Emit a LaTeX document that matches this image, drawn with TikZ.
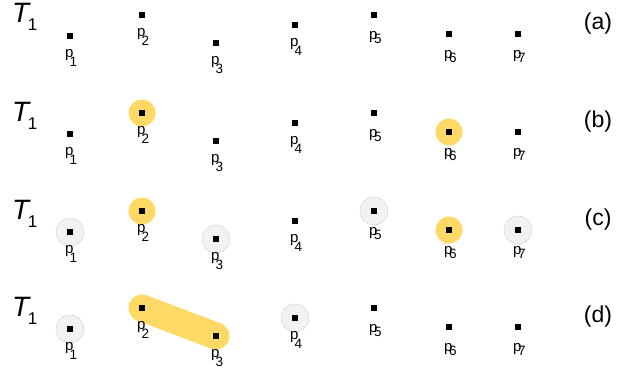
\documentclass[tikz,border=0pt]{standalone}
\usepackage{fontspec}
\setmainfont{Liberation Sans}
\definecolor{hl}{RGB}{255,217,102}
\definecolor{gfill}{RGB}{242,242,242}
\definecolor{gline}{RGB}{160,160,160}
\newcommand{\plab}[3]{\fontsize{15}{15}\selectfont p\kern#2\raisebox{-#3}{\fontsize{13.5}{13.5}\selectfont #1}}
\begin{document}
\begin{tikzpicture}[x=1pt,y=-1pt,
  pt/.style={fill=black,minimum size=6pt,inner sep=0pt,draw=none},
  lab/.style={anchor=base west,inner sep=0pt},
  yel/.style={fill=hl,draw=none},
  gry/.style={fill=gfill,draw=gline,densely dotted,line width=0.5pt},
  rowlab/.style={inner sep=0pt,font=\fontsize{23}{23}\selectfont},
  tlab/.style={inner sep=0pt,anchor=base west}]
\useasboundingbox (0,0) rectangle (621,372);
\foreach \r/\o in {a/0,b/98,c/196,d/293}{
  \coordinate (\r1) at (70,36+\o);
  \coordinate (\r2) at (142,15+\o);
  \coordinate (\r3) at (216,43+\o);
  \coordinate (\r4) at (295,25+\o);
  \coordinate (\r5) at (374,15+\o);
  \coordinate (\r6) at (449,34+\o);
  \coordinate (\r7) at (518,34+\o);
}
% highlights
\fill[yel] (b2) circle (13.5pt);
\fill[yel] (b6) circle (13.5pt);
\fill[yel] (c2) circle (13.5pt);
\fill[yel] (c6) circle (13.5pt);
\draw[gry] (c1) circle (14pt);
\draw[gry] (c3) circle (14pt);
\draw[gry] (c5) circle (14pt);
\draw[gry] (c7) circle (14pt);
\draw[gry] (d1) circle (14pt);
\draw[gry] (d4) circle (14pt);
\draw[hl,line width=27pt,line cap=round] (d2) -- (d3);
% points and labels
\foreach \r/\o/\L in {a/0/(a),b/98/(b),c/196/(c),d/293/(d)}{
  \foreach \i in {1,...,7}{
    \node[pt] (\r p\i) at (\r\i) {};
  }
  \foreach \i in {1,...,4}{
    \node[lab] (\r l\i) at ([xshift=-5pt,yshift=-21pt]\r\i) {\plab{\i}{-4pt}{9pt}};
  }
  \foreach \i in {5,6,7}{
    \node[lab] (\r l\i) at ([xshift=-5pt,yshift=-24pt]\r\i) {\plab{\i}{-3.5pt}{4pt}};
  }
  \node[tlab] (\r T) at (12,23+\o) {\fontsize{28}{28}\selectfont\itshape T\kern-1.5pt\raisebox{-8pt}{\fontsize{17}{17}\selectfont\upshape 1}};
  \node[rowlab] (\r L) at (598,24+\o) {\L};
}
\end{tikzpicture}
\end{document}
